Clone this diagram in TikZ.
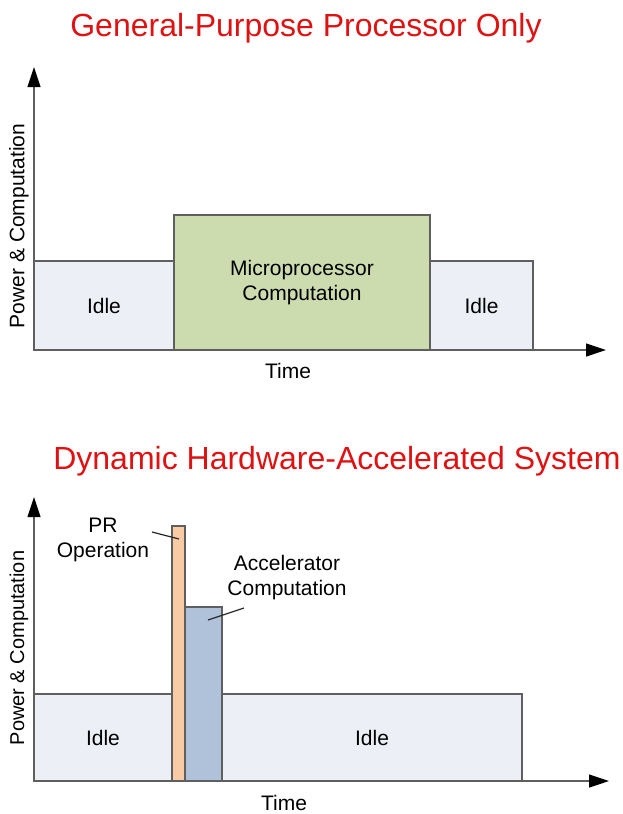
\documentclass[tikz,border=0pt]{standalone}
\usepackage{fontspec}
\setmainfont{Liberation Sans}
\usetikzlibrary{arrows.meta,positioning,calc}

\definecolor{idlefill}{RGB}{236,239,245}
\definecolor{cpufill}{RGB}{205,220,175}
\definecolor{prfill}{RGB}{248,203,165}
\definecolor{accfill}{RGB}{176,194,218}
\definecolor{titlered}{RGB}{222,18,18}
\definecolor{edgegray}{RGB}{95,95,95}

\begin{document}
\begin{tikzpicture}[x=1pt, y=-1pt,
    % Node styles
    bar/.style={rectangle, draw=edgegray, line width=1.1pt, anchor=south west,
                inner sep=0pt, outer sep=0pt, align=center,
                font=\fontsize{21}{25}\selectfont},
    idle/.style={bar, fill=idlefill},
    cpu/.style={bar, fill=cpufill},
    prbar/.style={bar, fill=prfill},
    accbar/.style={bar, fill=accfill},
    title/.style={anchor=base, text=titlered, inner sep=0pt,
                  font=\fontsize{32}{38}\selectfont},
    label/.style={align=center, inner sep=0pt, font=\fontsize{21}{25}\selectfont},
    ylabel/.style={label, rotate=90},
    axis/.style={draw=edgegray, line width=1.2pt,
                 -{Triangle[length=20pt, width=13pt, color=black]}},
    leader/.style={draw=black!85, line width=1.2pt}
]
\useasboundingbox (0,0) rectangle (622,814);

% 1. General-purpose processor only
\node[title] (titleA) at (306,36) {General-Purpose Processor Only};

\coordinate (originA) at (34,350);
\node[idle, minimum width=140pt, minimum height=89pt] (idleA) at (originA) {Idle};
\node[cpu, minimum width=256pt, minimum height=135pt] (cpu) at (idleA.south east) {
    Microprocessor\\
    Computation
};
\node[idle, minimum width=103pt, minimum height=89pt] (idleB) at (cpu.south east) {Idle};

\coordinate (yendA) at (34,67);
\coordinate (xendA) at (606,350);
\draw[axis] (originA) -- (yendA);
\draw[axis] (originA) -- (xendA);

\node[label] (timeA) at (288,371) {Time};
\node[ylabel] (powerA) at (19,226) {Power \& Computation};

% 2. Dynamic hardware-accelerated system
\node[title] (titleB) at (337,469) {Dynamic Hardware-Accelerated System};

\coordinate (originB) at (34,781);
\node[idle, minimum width=138pt, minimum height=87pt] (idleC) at (originB) {Idle};
\node[prbar, minimum width=13pt, minimum height=255pt] (pr) at (idleC.south east) {};
\node[accbar, minimum width=37pt, minimum height=174pt] (acc) at (pr.south east) {};
\node[idle, minimum width=300pt, minimum height=87pt] (idleD) at (acc.south east) {Idle};

\coordinate (yendB) at (34,497);
\coordinate (xendB) at (609,781);
\draw[axis] (originB) -- (yendB);
\draw[axis] (originB) -- (xendB);

\node[label] (timeB) at (284,803) {Time};
\node[ylabel, font=\fontsize{20}{24}\selectfont] (powerB) at (19,648) {Power \& Computation};

% Callouts
\node[label] (prlbl) at (103,540) {
    PR\\
    Operation
};
\node[label] (acclbl) at (287,578) {
    Accelerator\\
    Computation
};
\coordinate (prtail) at (152,532);
\coordinate (prtip) at (179,539);
\coordinate (acctail) at (244,608);
\coordinate (acctip) at (208,620);
\draw[leader] (prtail) -- (prtip);
\draw[leader] (acctail) -- (acctip);

\end{tikzpicture}
\end{document}
